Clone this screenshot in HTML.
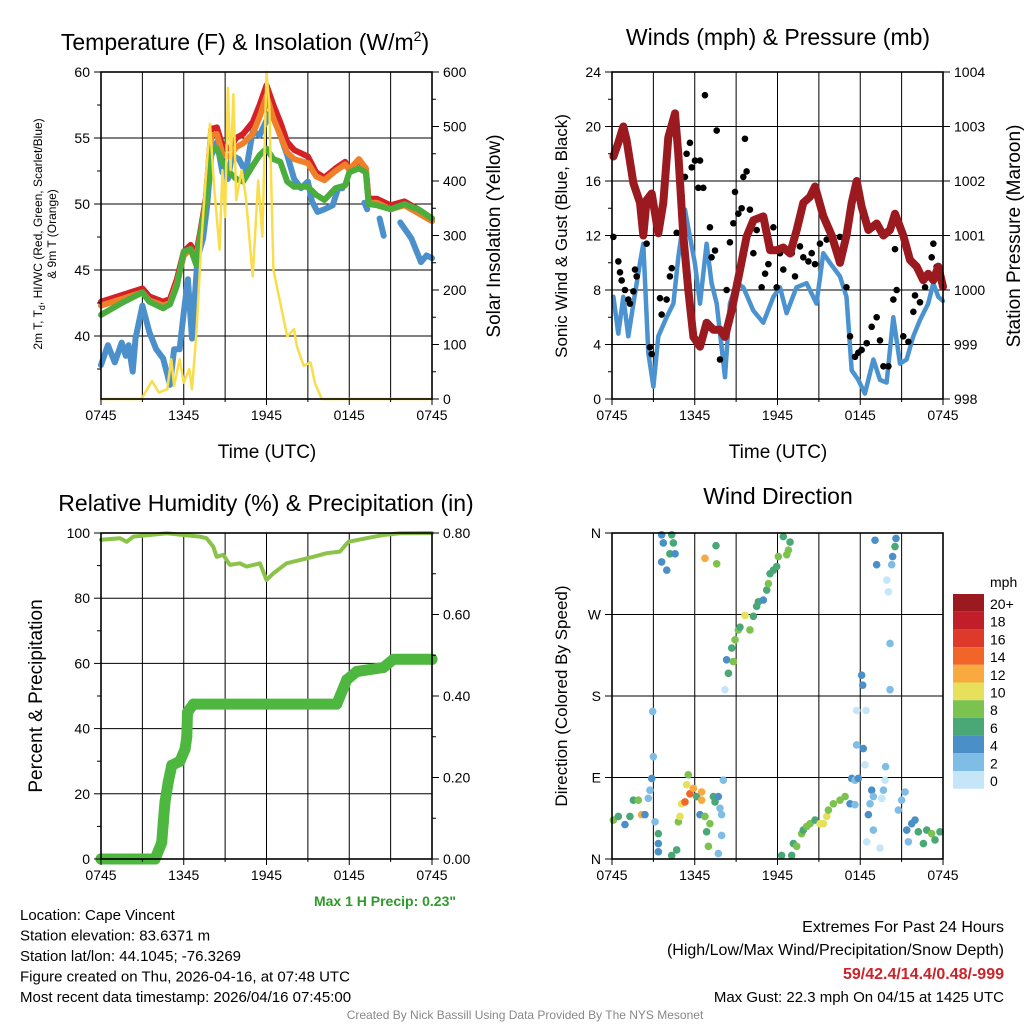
<!DOCTYPE html>
<html><head><meta charset="utf-8"><style>
body{margin:0;background:#fff;}
svg{display:block;font-family:"Liberation Sans",Arial,sans-serif;}
</style></head><body>
<svg id="c" width="1024" height="1024" viewBox="0 0 1024 1024"></svg>
<script>
// ---------- DATA (time in hours after 0745 UTC) ----------
const xTickLabels = ["0745","1345","1945","0145","0745"];
const tT = [0,1.5,3,3.5,4.5,5,5.5,6,6.5,6.9,7.2,7.6,8,8.4,8.8,9.3,9.8,10.3,11,11.5,12,12.5,13,13.5,14,15,15.6,16.2,17,17.7,18,18.7,19.2,19.4,20,21,22,23,24];
const tempRed = [42.6,43.1,43.6,43,42.6,42.8,44.3,46.4,46.9,46.2,47.9,50.4,55.7,55.8,54.4,54.2,55,55.3,56.2,57.5,59,57.5,56.2,54.7,54.1,53.6,52.4,52,52.7,53.2,52.6,53.3,52.7,50.4,50.4,49.9,50.2,49.6,48.9];
const tempOrange = [42.3,42.8,43.3,42.7,42.3,42.5,44,46.1,46.6,45.9,47.6,50.1,55.2,55.3,53.8,53.6,54.3,54.6,55.3,56.6,58.2,56.5,55.2,53.9,53.4,53.1,52.1,51.8,52.5,53,52.6,53.4,52.7,50.1,50.1,49.6,49.9,49.3,48.7];
const tempGreen = [41.6,42.5,43.3,42.6,42.1,42.4,43.8,46.4,46.6,45.4,47.6,50.2,54.2,54.2,53.2,52.4,51.9,51.7,52.9,53.7,54.2,53.4,53.2,51.7,51.3,51.3,50.7,50.3,51.2,51.4,52.4,52.7,52.4,50,49.9,49.6,50,49.6,48.9];
const tB = [0,0.5,1,1.5,1.8,2,2.3,2.5,3,3.5,4,4.5,5,5.3,5.7,6,6.3,6.6,7,7.4,7.7,8,8.4,8.8,9.2,9.5,10,10.5,11,11.5,12.3,12.7,13,13.5,14,14.5,15,15.3,15.7,16.2,16.8,17.2,17.5,17.6,19.1,19.3,19.4,20.2,20.5,20.6,21.7,22.5,23.2,23.6,24];
const tempBlue = [37.8,39.3,38,39.5,38.5,39.3,37.3,39.8,42.3,40.3,39,38.3,36.3,39,39,41.8,44.3,39.8,45.9,47.4,49.9,53.7,54.7,52.4,51.9,53.7,53.4,52.4,55.5,55.2,57,56.2,55.2,53.7,51.9,51.2,51.7,50.2,49.4,49.6,49.9,51.2,51.2,null,50.1,49.6,null,48.9,47.6,null,48.6,47.4,45.6,46.1,45.9];
const tS = [0,2.9,3,3.7,4.2,4.8,5.1,5.3,5.7,6,6.4,6.6,6.9,7.3,7.6,7.9,8.2,8.6,8.8,9,9.2,9.4,9.6,9.8,10.2,10.5,11,11.4,11.7,12,12.2,12.5,13,13.5,14,14.2,14.7,15.2,15.5,16,24];
const solar = [0,0,3,33,12,18,73,24,73,30,55,18,115,298,407,505,389,274,420,334,571,420,559,365,420,371,225,401,298,600,541,237,176,115,128,97,61,67,30,0,0];
const tW = [0.1,0.46,0.82,1.18,1.55,2.03,2.27,2.63,3.0,3.36,3.96,4.45,4.81,5.29,5.65,6.0,6.38,6.86,7.22,7.59,8.19,8.55,9.04,9.52,10.24,10.97,11.7,12.18,12.66,13.38,14.11,14.83,15.32,15.8,16.53,17.0,17.38,17.86,18.34,18.95,19.43,19.91,20.4,20.88,21.36,21.85,22.33,22.93,23.3,23.66,24];
const windSpeed = [7.5,4.8,7.5,4.6,7,10,11.4,3.4,0.9,4.6,6,7,10.4,13.9,11.9,10,7,11.4,8.5,7,1.6,7,8.5,8.2,6.5,5.6,7.5,8.2,6.3,8.2,8.5,7,10.7,10,9,7.5,2.1,1.4,0.4,2.9,1.4,1.2,6,2.6,2.9,4.6,5.8,7,8.5,7.5,7.2];
const tP = [0.1,0.46,0.82,1.06,1.55,2.03,2.27,2.51,2.88,3.36,3.72,4.08,4.57,4.81,5.17,5.53,5.9,6.38,6.86,7.35,7.83,8.19,8.68,9.28,9.76,10.25,10.97,11.46,11.94,12.42,12.91,13.39,13.87,14.36,14.72,15.33,15.93,16.53,17.0,17.38,17.74,18.1,18.59,19.19,19.68,20.16,20.52,21.12,21.61,22.09,22.57,22.93,23.3,23.66,24];
const pressure = [1002.45,1002.7,1003.0,1002.75,1001.96,1001.6,1001.0,1001.65,1001.77,1001.04,1001.6,1002.8,1003.24,1002.5,1001.0,1000.0,999.14,998.96,999.4,999.27,999.27,999.14,999.63,1000.37,1000.98,1001.28,1001.35,1000.73,1000.73,1000.78,1000.67,1001.1,1001.6,1001.71,1001.9,1001.35,1001.0,1000.5,1001.0,1001.6,1002.0,1001.53,1001.1,1001.22,1001.0,1001.1,1001.4,1001.0,1000.55,1000.43,1000.18,1000.3,1000.18,1000.43,1000.06];
const gustT = [0.1,0.46,0.58,0.7,0.94,1.18,1.3,1.55,1.67,1.79,2.51,2.75,2.88,3.48,3.6,3.96,4.2,4.33,4.69,5.05,5.29,5.41,5.65,5.78,6.02,6.26,6.38,6.62,6.74,7.1,7.22,7.47,7.59,7.83,8.31,8.55,8.8,8.92,9.16,9.4,9.52,9.64,9.76,10.0,10.25,10.49,10.85,11.1,11.34,11.7,11.94,12.18,12.42,12.67,13.03,13.27,13.63,13.87,14.24,14.48,14.72,15.08,15.33,15.57,15.8,16.53,17.0,17.26,17.62,17.86,18.1,18.47,18.83,19.19,19.43,19.68,20.04,20.4,20.52,20.64,21.12,21.49,21.85,21.97,22.33,22.7,23.18,23.3,23.54,23.78];
const gustV = [11.9,10.1,9.3,8.7,8,7.3,7,7.9,9.5,9,11.4,3.8,3.3,7.4,6.2,7.3,9,9.6,12.2,14.9,16.3,18,18.8,17,17.5,15.5,17.5,15.5,22.3,12.6,10.4,10.9,19.7,2.9,8,11.5,12.9,15.2,13.6,14,16.3,19.1,16.7,13.9,10.7,12.4,8.2,9.2,9.9,12.6,8.2,10.7,9.5,10.9,10.7,9,11.2,10.4,10.1,10.7,9.9,11.4,13.4,11.7,12.2,11.9,8.2,4.6,3.1,3.4,3.6,4.1,5.3,6,4.3,2.4,2.4,7.3,11,8,4.6,4.2,6.4,7.6,7.1,8.2,10.4,11.4,9.7,9.5];
const tR = [0,1.38,1.86,2.35,4.77,5.97,7.17,7.65,8.14,8.38,8.86,9.34,10.07,10.55,11.52,12.0,12.49,13.45,14.42,15.39,16.36,17.32,17.94,19.26,20.47,21.68,24];
const rh = [97.9,98.4,97.3,98.9,99.9,99.4,98.9,98.4,95.8,92.7,93.3,90.2,90.7,89.7,90.7,85.6,87.6,90.7,91.7,92.7,93.8,94.3,97.3,98.4,99.4,99.9,100];
const tPr = [0,3.92,4.4,4.52,4.64,4.88,5.13,5.73,6.1,6.22,6.27,6.7,17.1,17.82,18.55,20.48,21.2,24];
const precip = [0,0,0.04,0.09,0.14,0.19,0.23,0.24,0.27,0.30,0.36,0.38,0.38,0.44,0.46,0.47,0.49,0.49];
const dirT = [0.1,0.46,0.94,1.3,1.55,1.91,2.15,2.39,2.63,2.75,2.88,3.0,2.95,3.12,3.36,3.36,3.36,3.6,3.72,4.33,4.45,4.2,4.57,3.6,3.97,4.33,4.69,4.81,4.93,5.05,5.29,5.65,5.41,5.53,5.9,6.14,6.38,6.5,6.5,6.74,6.74,6.86,6.99,7.1,7.35,7.47,7.71,7.83,7.95,7.95,7.71,8.07,7.54,7.59,8.19,8.31,8.44,8.8,8.68,8.92,9.16,9.28,9.64,10.0,10.25,10.49,10.61,10.97,11.22,11.34,11.46,11.7,11.94,12.06,12.42,12.67,12.79,12.91,12.3,13.03,13.15,13.39,13.75,13.87,14.12,14.36,14.72,15.08,15.33,15.57,15.69,16.05,16.53,16.9,17.26,17.62,17.38,17.62,17.86,18.1,18.18,17.74,18.42,17.74,18.22,18.35,18.83,18.95,18.59,18.71,18.95,18.47,19.43,19.56,19.68,19.8,19.84,19.07,19.19,20.16,20.16,19.92,20.04,20.28,20.35,20.52,20.59,20.76,21.0,21.25,21.37,21.49,21.73,21.97,22.21,22.58,22.82,23.18,23.42,23.78];
const dirD = [43,47,38,47,65,65,49,49,67,76,89,113,163,41,28,17,8,358,349,358,349,337,337,328,319,4,10,41,47,61,63,72,82,93,78,69,49,74,65,47,332,30,14,39,69,63,69,56,49,26,6,87,346,326,187,220,205,218,233,242,253,256,269,253,268,279,284,286,297,304,315,319,323,334,356,336,341,350,4,4,17,14,28,32,36,39,43,39,39,47,54,61,65,69,61,60,89,87,89,203,192,164,164,126,122,104,76,69,49,61,32,19,12,67,76,87,102,352,325,238,187,308,295,325,334,345,354,54,65,74,32,19,39,43,30,17,32,28,21,30];
const dirS = [8,6,4,6,6,8,12,4,2,2,4,2,2,2,6,4,4,4,4,6,6,6,4,4,4,6,6,8,10,10,14,14,10,8,12,6,4,12,12,8,12,6,8,8,6,6,4,2,2,2,2,2,6,8,0,4,6,8,6,8,8,6,10,8,6,6,6,4,6,8,6,6,6,8,6,8,8,6,6,6,6,8,8,6,8,8,6,10,10,10,8,8,8,8,4,2,4,2,4,4,4,0,0,2,4,0,4,2,4,2,2,0,0,0,2,0,2,4,4,2,2,0,0,2,4,6,4,2,2,2,4,2,4,4,6,6,6,8,6,6];
const cbLabels = ["20+","18","16","14","12","10","8","6","4","2","0"];
const cbColors = ["#9b1a1f","#c01f2a","#de3a2c","#f16529","#f8a940","#e6e05a","#7cc24e","#49a875","#4a8fc8","#7fbde6","#c4e6f8"];
</script>
<script>
const S=document.getElementById('c');const NS='http://www.w3.org/2000/svg';
function el(tag,attrs,txt,parent){const e=document.createElementNS(NS,tag);for(const k in attrs)e.setAttribute(k,attrs[k]);if(txt!=null)e.textContent=txt;(parent||S).appendChild(e);return e;}
function panel(name,x0,x1,y0,y1){const g=el('g',{});
 for(let i=1;i<8;i++){const x=x0+(x1-x0)*i/8;el('line',{x1:x,x2:x,y1:y0,y2:y1,stroke:'#000','stroke-width':1},null,g);}
 return g;}
const tx=(x0,x1)=>t=>x0+(x1-x0)*t/24;
function frame(g,x0,x1,y0,y1){el('rect',{x:x0,y:y0,width:x1-x0,height:y1-y0,fill:'none',stroke:'#000','stroke-width':1.6},null,g);
 xTickLabels.forEach((l,i)=>{const x=x0+(x1-x0)*i/4;el('line',{x1:x,x2:x,y1:y1,y2:y1+6,stroke:'#000'},null,g);const t=el('text',{x:x,y:y1+21,'font-size':14,'text-anchor':'middle'},l,g);});
 for(let i=1;i<8;i+=2){const x=x0+(x1-x0)*i/8;el('line',{x1:x,x2:x,y1:y1,y2:y1+3,stroke:'#000'},null,g);}}
function yTicks(g,x,vals,ys,side,fmt,minor){vals.forEach((v,i)=>{const y=ys(v);const d=side==='l'?-7:7;el('line',{x1:x,x2:x+d,y1:y,y2:y,stroke:'#000'},null,g);
 const t=el('text',{x:x+(side==='l'?-11:11),y:y+5,'font-size':14,'text-anchor':side==='l'?'end':'start'},fmt(v),g);});
 if(minor)minor.forEach(v=>{const y=ys(v);el('line',{x1:x,x2:x+(side==='l'?-4:4),y1:y,y2:y,stroke:'#000'},null,g);});}
function hgrid(g,x0,x1,ys,vals){vals.forEach(v=>el('line',{x1:x0,x2:x1,y1:ys(v),y2:ys(v),stroke:'#000'},null,g));}
function line(g,ts,arr,X,Y,color,w,name){let d='',pen=false;arr.forEach((v,i)=>{if(v==null){pen=false;return;}d+=(pen?'L':'M')+X(ts[i]).toFixed(1)+','+Y(v).toFixed(1);pen=true;});
 const p=el('path',{d:d,fill:'none',stroke:color,'stroke-width':w,'stroke-linejoin':'round','stroke-linecap':'round'},null,g);return p;}
function title(txt,x,y,name){const t=el('text',{x:x,y:y,'font-size':23,'text-anchor':'middle'},txt);return t;}
function label(txt,x,y,size,rot,name,anchor){const t=el('text',{x:x,y:y,'font-size':size,'text-anchor':anchor||'middle',transform:rot?`rotate(${rot} ${x} ${y})`:''},txt);return t;}

// ---------- Panel 1 Temperature ----------
{const x0=101,x1=432,y0=72,y1=399;const X=tx(x0,x1);const Y=v=>72+(60-v)*13.2;const Ys=v=>399-v*327/600;
 const g=panel('temperature-panel',x0,x1,y0,y1);hgrid(g,x0,x1,Y,[40,45,50,55]);
 line(g,tB,tempBlue,X,Y,'#4b8fcb',6,'hiwc-blue-line');
 line(g,tT,tempRed,X,Y,'#d42027',6,'temp-2m-red-line');
 line(g,tT,tempOrange,X,Y,'#f07f2a',6,'temp-9m-orange-line');
 line(g,tT,tempGreen,X,Y,'#4aad3c',6,'dewpoint-green-line');
 line(g,tS,solar,X,Ys,'#f9dd4a',2.5,'solar-yellow-line');
 frame(g,x0,x1,y0,y1);
 yTicks(g,x0,[40,45,50,55,60],Y,'l',v=>v,[37.5,42.5,47.5,52.5,57.5]);
 yTicks(g,x1,[0,100,200,300,400,500,600],Ys,'r',v=>v,[50,150,250,350,450,550]);
 const t=title('Temperature (F) & Insolation (W/m',245,50,'temperature-title');el('tspan',{dy:-9,'font-size':14},'2',t);el('tspan',{dy:9},')',t);
 label('Time (UTC)',267,458,19,0,'x-axis-title');
 const yl=el('text',{x:42,y:234,'font-size':12,'text-anchor':'middle',transform:'rotate(-90 42 234)'});
 yl.innerHTML='2m T, T<tspan font-size="9" dy="3">d</tspan><tspan dy="-3">, HI/WC (Red, Green, Scarlet/Blue)</tspan>';
 label('& 9m T (Orange)',56,234,12,-90,'temp-y-axis-title-2');
 label('Solar Insolation (Yellow)',500,236,19,-90,'solar-y-axis-title');}

// ---------- Panel 2 Winds ----------
{const x0=612,x1=943,y0=72,y1=399;const X=tx(x0,x1);const Y=v=>399-v*327/24;const Yp=v=>399-(v-998)*327/6;
 const g=panel('winds-panel',x0,x1,y0,y1);hgrid(g,x0,x1,Y,[4,8,12,16,20]);
 line(g,tW,windSpeed,X,Y,'#4b93d0',4.5,'sonic-wind-line');
 gustT.forEach((t,i)=>{const c=el('circle',{cx:X(t),cy:Y(gustV[i]),r:3.3,fill:'#000'},null,g);});
 line(g,tP,pressure,X,Yp,'#9b1a1f',8,'pressure-line');
 frame(g,x0,x1,y0,y1);
 yTicks(g,x0,[0,4,8,12,16,20,24],Y,'l',v=>v,[2,6,10,14,18,22]);
 yTicks(g,x1,[998,999,1000,1001,1002,1003,1004],Yp,'r',v=>v,[]);
 title('Winds (mph) & Pressure (mb)',778,45,'winds-title');
 label('Time (UTC)',778,458,19,0,'x-axis-title');
 label('Sonic Wind & Gust (Blue, Black)',567,236,17,-90,'wind-y-axis-title');
 label('Station Pressure (Maroon)',1020,236,19,-90,'pressure-y-axis-title');}

// ---------- Panel 3 RH ----------
{const x0=101,x1=432,y0=533,y1=859;const X=tx(x0,x1);const Y=v=>859-v*3.26;const Yp=v=>859-v*326/0.8;
 const g=panel('humidity-panel',x0,x1,y0,y1);hgrid(g,x0,x1,Y,[20,40,60,80]);
 line(g,tR,rh,X,Y,'#8bc34a',4,'rh-line');
 line(g,tPr,precip,X,Yp,'#4db73f',11,'precip-line');
 tPr.forEach((t,i)=>{const c=el('circle',{cx:X(t),cy:Yp(precip[i]),r:5.5,fill:'#4db73f'},null,g);});
 frame(g,x0,x1,y0,y1);
 yTicks(g,x0,[0,20,40,60,80,100],Y,'l',v=>v,[10,30,50,70,90]);
 yTicks(g,x1,[0,0.2,0.4,0.6,0.8],Yp,'r',v=>v.toFixed(2),[0.1,0.3,0.5,0.7]);
 title('Relative Humidity (%) & Precipitation (in)',266,511,'humidity-title');
 label('Percent & Precipitation',42,696,19,-90,'rh-y-axis-title');
 const m=label('Max 1 H Precip: 0.23"',385,906,14,0,'max-precip-label');m.setAttribute('fill','#2e9a2a');m.setAttribute('font-weight','bold');}

// ---------- Panel 4 Direction ----------
{const x0=612,x1=943,y0=533,y1=859;const X=tx(x0,x1);const Y=v=>859-v*326/360;
 const g=panel('wind-direction-panel',x0,x1,y0,y1);hgrid(g,x0,x1,Y,[90,180,270]);
 const col=s=>cbColors[10-Math.min(10,Math.round(s/2))];
 dirT.forEach((t,i)=>{const c=el('circle',{cx:X(t),cy:Y(dirD[i]),r:3.8,fill:col(dirS[i])},null,g);});
 frame(g,x0,x1,y0,y1);
 yTicks(g,x0,[0,90,180,270,360],Y,'l',v=>['N','E','S','W','N'][v/90],[]);
 title('Wind Direction',778,504,'direction-title');
 label('Direction (Colored By Speed)',567,696,17,-90,'direction-y-axis-title');
 const cb=el('g',{});
 cbColors.forEach((c,i)=>{el('rect',{x:953,y:594+i*17.7,width:31,height:17.7,fill:c},null,cb);
  const t=el('text',{x:990,y:594+i*17.7+15,'font-size':14},cbLabels[i],cb);});
 label('mph',990,587,14,0,'colorbar-title','start');}

// ---------- Footer ----------
const info=["Location: Cape Vincent","Station elevation: 83.6371 m","Station lat/lon: 44.1045; -76.3269","Figure created on Thu, 2026-04-16, at 07:48 UTC","Most recent data timestamp: 2026/04/16 07:45:00"];
info.forEach((s,i)=>label(s,20,920+i*20.5,15,0,'station-info-line','start'));
label('Extremes For Past 24 Hours',1004,932,16,0,'extremes-title','end');
label('(High/Low/Max Wind/Precipitation/Snow Depth)',1004,955,16,0,'extremes-subtitle','end');
{const t=label('59/42.4/14.4/0.48/-999',1004,979,16,0,'extremes-values','end');t.setAttribute('fill','#cc2229');t.setAttribute('font-weight','bold');}
label('Max Gust: 22.3 mph On 04/15 at 1425 UTC',1004,1002,15,0,'max-gust-text','end');
{const t=label('Created By Nick Bassill Using Data Provided By The NYS Mesonet',525,1019,12,0,'credit-text');t.setAttribute('fill','#888');}
</script>
</body></html>
